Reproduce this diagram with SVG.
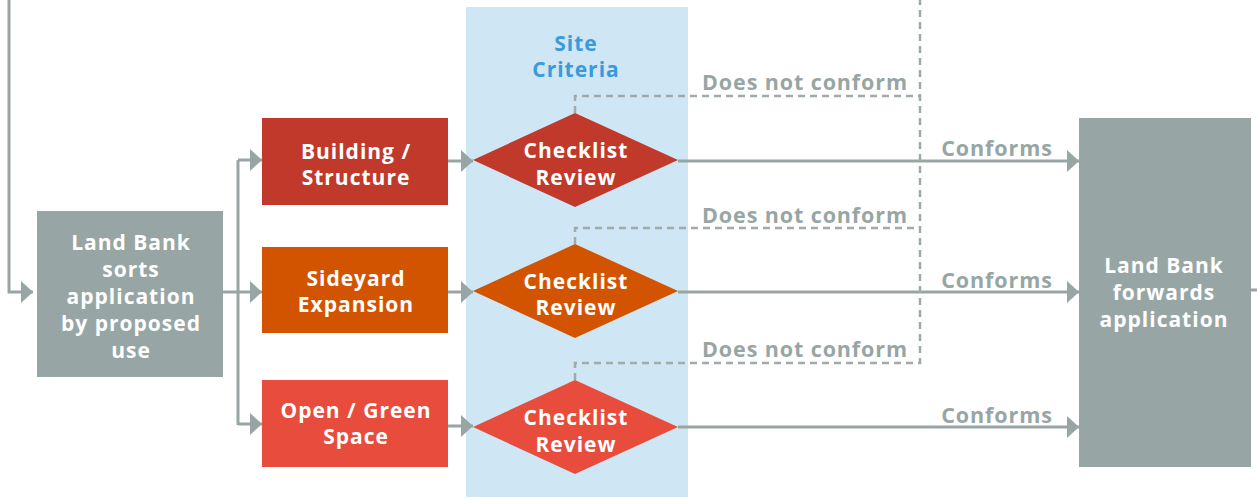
<svg xmlns="http://www.w3.org/2000/svg" width="1257" height="500" viewBox="0 0 1257 500">
<style>
.t{font-family:"Open Sans","Liberation Sans",sans-serif;font-weight:700;font-size:21px;letter-spacing:1px;fill:#ffffff;text-anchor:middle;dominant-baseline:central}
.g{font-family:"Open Sans","Liberation Sans",sans-serif;font-weight:700;font-size:21.5px;letter-spacing:0.9px;fill:#97a6a4;text-anchor:middle;dominant-baseline:central}
.b{font-family:"Open Sans","Liberation Sans",sans-serif;font-weight:700;font-size:21px;letter-spacing:1px;fill:#3b9ad9;text-anchor:middle;dominant-baseline:central}
.ln{fill:none;stroke:#97a6a4;stroke-width:3}
.ds{fill:none;stroke:#a0aaa8;stroke-width:2.5;stroke-dasharray:7 5}
.grey{fill:#97a6a4}
</style>
<defs>
<marker id="ar" markerUnits="userSpaceOnUse" markerWidth="12" markerHeight="22" refX="12" refY="11" orient="auto">
<path d="M0,0 L12,11 L0,22 Z" fill="#97a6a4"/>
</marker>
</defs>
<rect x="0" y="0" width="1257" height="500" fill="#ffffff"/>
<g id="site-criteria">
<rect x="466" y="7" width="222" height="490" fill="#cfe6f5"/>
<text class="b" x="576" y="43">Site</text>
<text class="b" x="576" y="69">Criteria</text>
</g>
<g id="connectors">
<path class="ln" d="M9,0 V292 H33" marker-end="url(#ar)"/>
<path class="ln" d="M223,292 H238"/>
<path class="ln" d="M238,160 V425"/>
<path class="ln" d="M238,160 H262" marker-end="url(#ar)"/>
<path class="ln" d="M238,292 H262" marker-end="url(#ar)"/>
<path class="ln" d="M238,424 H262" marker-end="url(#ar)"/>
<path class="ln" d="M448,161 H473" marker-end="url(#ar)"/>
<path class="ln" d="M448,292 H473" marker-end="url(#ar)"/>
<path class="ln" d="M448,426 H473" marker-end="url(#ar)"/>
<path class="ln" d="M678,161 H1079" marker-end="url(#ar)"/>
<path class="ln" d="M678,292 H1079" marker-end="url(#ar)"/>
<path class="ln" d="M678,427 H1079" marker-end="url(#ar)"/>
<path class="ln" d="M1251,290 H1257"/>
<path class="ds" d="M575,113 V96 H920"/>
<path class="ds" d="M575,244 V228 H920"/>
<path class="ds" d="M575,380 V363 H920 V0"/>
<text class="g" x="805" y="81">Does not conform</text>
<text class="g" x="805" y="214">Does not conform</text>
<text class="g" x="805" y="348">Does not conform</text>
<text class="g" x="997" y="147">Conforms</text>
<text class="g" x="997" y="279">Conforms</text>
<text class="g" x="997" y="414">Conforms</text>
</g>
<g id="sort">
<rect class="grey" x="37" y="211" width="186" height="166"/>
<text class="t" x="131" y="242">Land Bank</text>
<text class="t" x="131" y="269">sorts</text>
<text class="t" x="131" y="296">application</text>
<text class="t" x="131" y="323">by proposed</text>
<text class="t" x="131" y="350">use</text>
</g>
<g id="building">
<rect x="262" y="118" width="186" height="87" fill="#c0392b"/>
<text class="t" x="356" y="151">Building /</text>
<text class="t" x="356" y="177">Structure</text>
</g>
<g id="sideyard">
<rect x="262" y="247" width="186" height="86" fill="#d35400"/>
<text class="t" x="356" y="278">Sideyard</text>
<text class="t" x="356" y="304">Expansion</text>
</g>
<g id="open">
<rect x="262" y="380" width="186" height="87" fill="#e74c3c"/>
<text class="t" x="356" y="410">Open / Green</text>
<text class="t" x="356" y="436">Space</text>
</g>
<g id="review1">
<polygon points="575,113 678,160 575,207 473,160" fill="#c0392b"/>
<text class="t" x="576" y="150">Checklist</text>
<text class="t" x="576" y="177">Review</text>
</g>
<g id="review2">
<polygon points="575,244 678,291 575,338 473,291" fill="#d35400"/>
<text class="t" x="576" y="281">Checklist</text>
<text class="t" x="576" y="307">Review</text>
</g>
<g id="review3">
<polygon points="575,380 678,427 575,474 473,427" fill="#e74c3c"/>
<text class="t" x="576" y="417">Checklist</text>
<text class="t" x="576" y="444">Review</text>
</g>
<g id="forward">
<rect class="grey" x="1079" y="118" width="172" height="349"/>
<text class="t" x="1164" y="265">Land Bank</text>
<text class="t" x="1164" y="292">forwards</text>
<text class="t" x="1164" y="319">application</text>
</g>
</svg>
